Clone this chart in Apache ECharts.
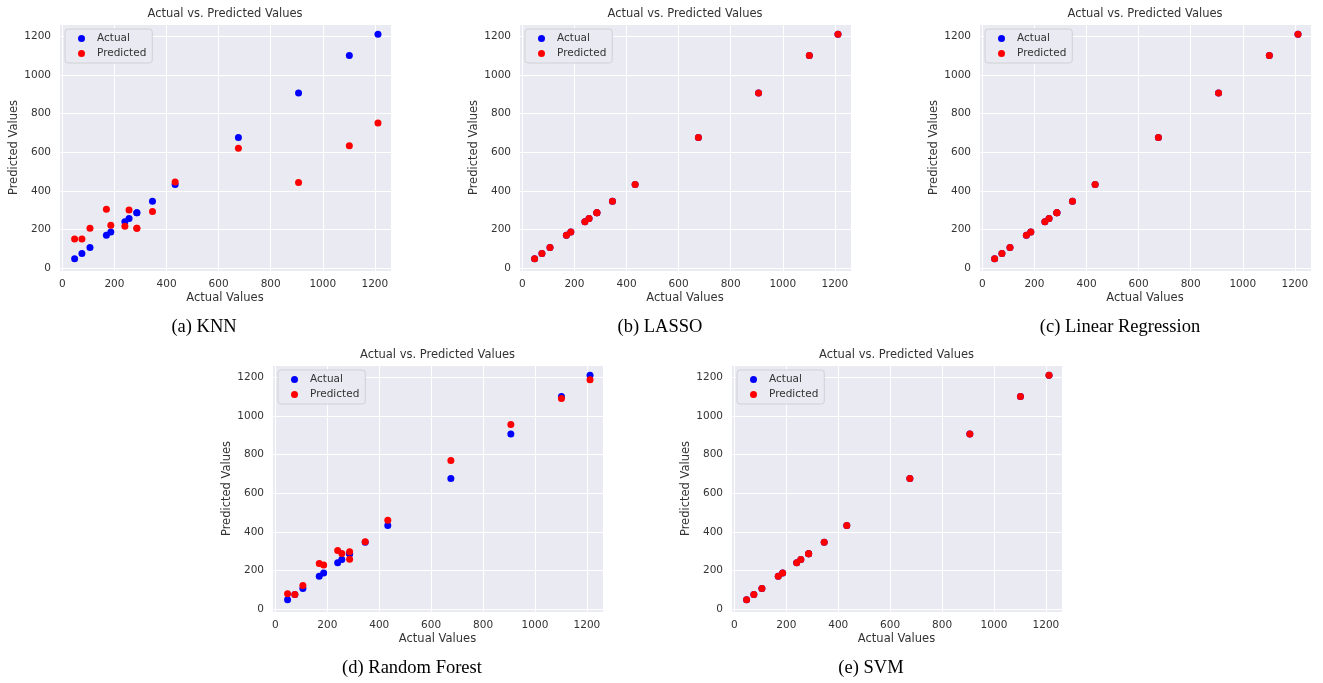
<!DOCTYPE html>
<html>
<head>
<meta charset="utf-8">
<title>Actual vs. Predicted Values</title>
<script src="https://cdn.jsdelivr.net/npm/echarts@6/dist/echarts.min.js"></script>
<style>
html, body { margin: 0; padding: 0; background: #fff; }
#main { width: 1323px; height: 683px; }
</style>
</head>
<body>
<div id="main"></div>
<script>
// actual target values (x axis, and the "Actual" series)
var actualVals = [47, 75, 106, 169, 186, 240, 256, 286, 286, 346, 433, 676, 907, 1102, 1212]
// predictions of each model, same order as actualVals
var knnPred = [150, 150, 206, 304, 221, 216, 300, 206, 206, 293, 446, 620, 443, 634, 752]
var lassoPred = [47, 75, 106, 169, 186, 240, 256, 286, 286, 346, 433, 676, 907, 1102, 1212]
var linearPred = [47, 75, 106, 169, 186, 240, 256, 286, 286, 346, 433, 676, 907, 1102, 1212]
var rfPred = [79, 75, 122, 235, 228, 303, 287, 296, 258, 348, 460, 770, 956, 1091, 1188]
var svmPred = [47, 75, 106, 169, 186, 240, 256, 286, 286, 346, 433, 676, 907, 1102, 1212]

var captions = ['(a) KNN', '(b) LASSO', '(c) Linear Regression', '(d) Random Forest', '(e) SVM']
var predList = [knnPred, lassoPred, linearPred, rfPred, svmPred]

// panel boxes (plot area) in px
var panels = [
  { left: 59, top: 24, width: 332, height: 247, capX: 204, capY: 327 },
  { left: 519, top: 24, width: 332, height: 247, capX: 660, capY: 327 },
  { left: 979, top: 24, width: 332, height: 247, capX: 1120, capY: 327 },
  { left: 272, top: 365, width: 331, height: 247, capX: 412, capY: 668 },
  { left: 731, top: 365, width: 331, height: 247, capX: 871, capY: 668 }
]

var txtColor = '#333333'
var sansFont = '"DejaVu Sans", sans-serif'

var grids = [], xAxes = [], yAxes = [], series = [], legends = [], graphics = []

function tickFmt (v) {
  return v % 200 === 0 ? String(v) : ''
}

panels.forEach(function (p, i) {
  grids.push({
    left: p.left, top: p.top, width: p.width, height: p.height,
    show: true, backgroundColor: '#EAEAF2', borderWidth: 0
  })
  xAxes.push({
    type: 'value', gridIndex: i, min: -13, max: 1262, splitNumber: 6,
    name: 'Actual Values', nameLocation: 'middle', nameGap: 21,
    nameTextStyle: { fontSize: 11.5, color: txtColor, fontFamily: sansFont },
    axisLine: { show: false }, axisTick: { show: false },
    axisLabel: { fontSize: 10.5, color: txtColor, fontFamily: sansFont, margin: 8, formatter: tickFmt },
    splitLine: { show: true, lineStyle: { color: '#ffffff', width: 1 } }
  })
  yAxes.push({
    type: 'value', gridIndex: i, min: -16, max: 1265, splitNumber: 6,
    name: 'Predicted Values', nameLocation: 'middle', nameGap: 39,
    nameTextStyle: { fontSize: 11.5, color: txtColor, fontFamily: sansFont },
    axisLine: { show: false }, axisTick: { show: false },
    axisLabel: { fontSize: 10.5, color: txtColor, fontFamily: sansFont, margin: 8, formatter: tickFmt },
    splitLine: { show: true, lineStyle: { color: '#ffffff', width: 1 } }
  })
  series.push({
    name: 'Actual', type: 'scatter', xAxisIndex: i, yAxisIndex: i,
    symbolSize: 7, itemStyle: { color: '#0000ff', opacity: 1 },
    emphasis: { disabled: true },
    data: actualVals.map(function (v) { return [v, v] })
  })
  series.push({
    name: 'Predicted', type: 'scatter', xAxisIndex: i, yAxisIndex: i,
    symbolSize: 7, itemStyle: { color: '#ff0000', opacity: 1 },
    emphasis: { disabled: true },
    data: actualVals.map(function (v, k) { return [v, predList[i][k]] })
  })
  legends.push({
    data: ['Actual', 'Predicted'],
    orient: 'vertical', left: p.left + 6, top: p.top + 5,
    icon: 'circle', itemWidth: 21, itemHeight: 7, itemGap: 4,
    padding: [4, 6, 4, 13],
    backgroundColor: '#EAEAF2', borderColor: '#d0d0d6', borderWidth: 1, borderRadius: 3,
    textStyle: { fontSize: 10.5, color: txtColor, fontFamily: sansFont },
    selectedMode: false
  })
  graphics.push({
    type: 'text', x: p.left + p.width / 2, y: p.top - 10,
    style: { text: 'Actual vs. Predicted Values', align: 'center', verticalAlign: 'middle',
      fontSize: 11.5, fontFamily: sansFont, fill: txtColor }
  })
  graphics.push({
    type: 'text', x: p.capX, y: p.capY,
    style: { text: captions[i], align: 'center', verticalAlign: 'middle',
      fontSize: 18.5, fontFamily: '"Liberation Serif", "Times New Roman", serif', fill: '#000000' }
  })
})

var chart = echarts.init(document.getElementById('main'))
chart.setOption({
  animation: false,
  backgroundColor: '#ffffff',
  grid: grids,
  xAxis: xAxes,
  yAxis: yAxes,
  legend: legends,
  series: series,
  graphic: graphics
})
</script>
</body>
</html>
